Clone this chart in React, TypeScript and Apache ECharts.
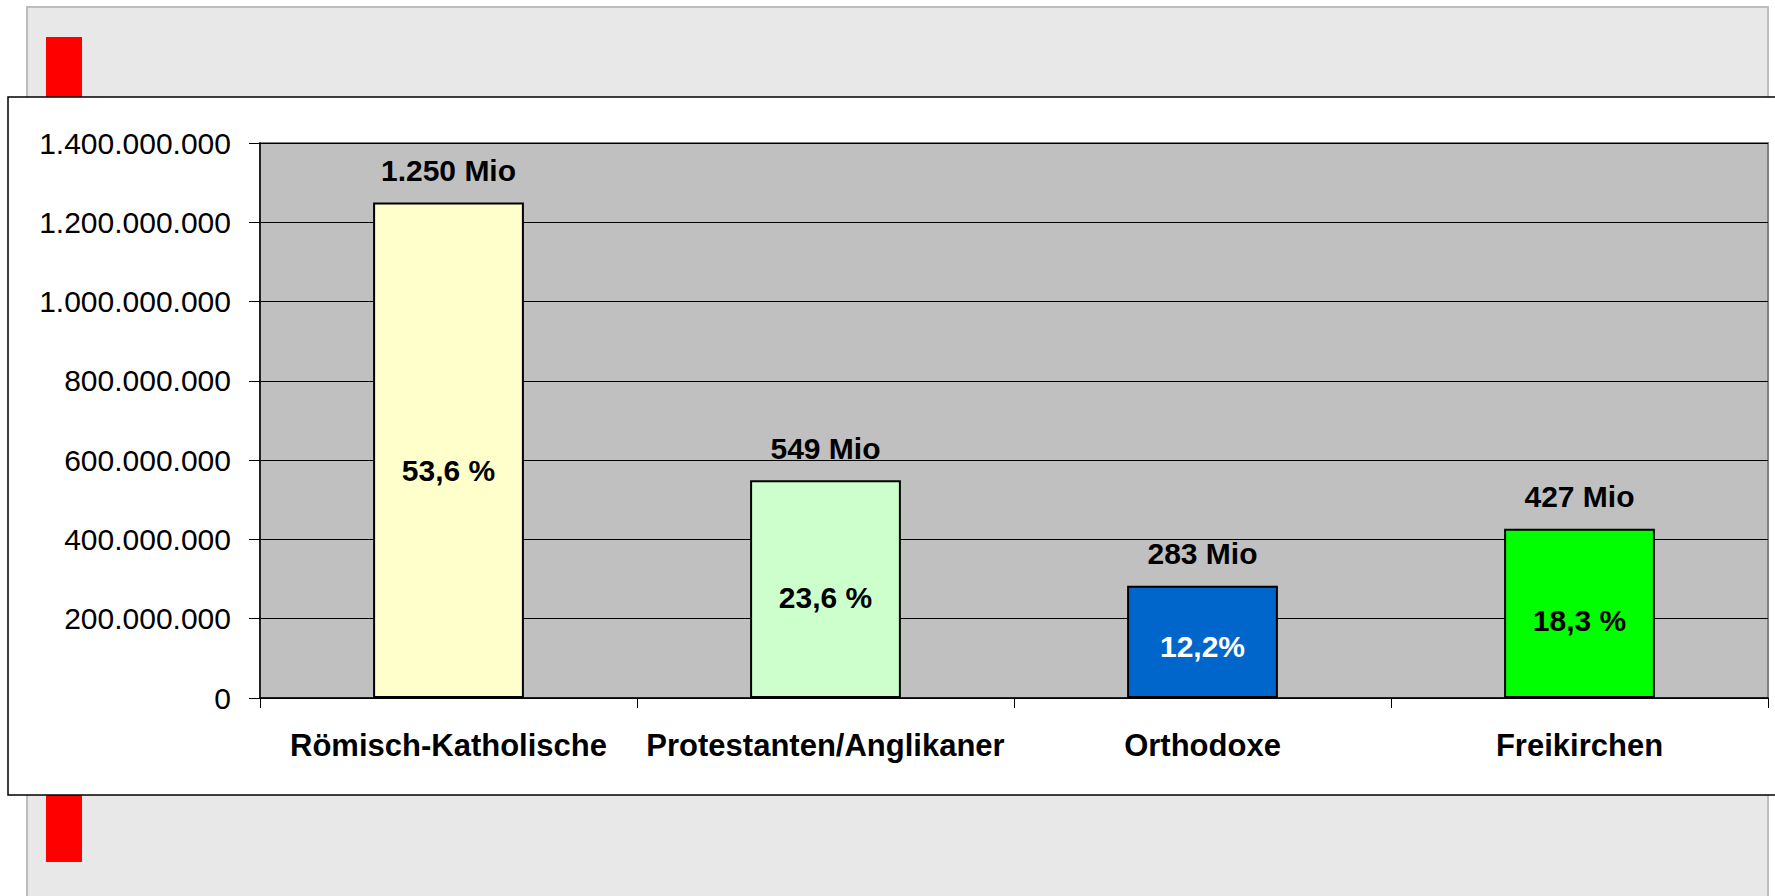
import React, { useEffect, useRef } from "react";
import * as echarts from "echarts";

const categories = ["Römisch-Katholische", "Protestanten/Anglikaner", "Orthodoxe", "Freikirchen"];
const members = [1250000000, 549000000, 283000000, 427000000];
const valueLabels = ["1.250 Mio", "549 Mio", "283 Mio", "427 Mio"];
const shareLabels = ["53,6 %", "23,6 %", "12,2%", "18,3 %"];
const barColors = ["#FFFFCC", "#CCFFCC", "#0066CC", "#00FF00"];
const shareLabelColors = ["#000000", "#000000", "#FFFFFF", "#000000"];
const yMin = 0;
const yMax = 1400000000;
const yStep = 200000000;

const FONT = "'Liberation Sans', Arial, Helvetica, sans-serif";

function formatDE(v: number): string {
  const s = Math.round(v).toString();
  return s.replace(/\B(?=(\d{3})+(?!\d))/g, ".");
}

export default function App() {
  const ref = useRef<HTMLDivElement>(null);
  useEffect(() => {
    if (!ref.current) return;
    const chart = echarts.init(ref.current, undefined, { renderer: "svg" });
    chart.setOption({
      animation: false,
      backgroundColor: "#FFFFFF",
      graphic: [
        {
          type: "rect",
          z: -100,
          shape: { x: 27, y: 7, width: 1741, height: 920 },
          style: { fill: "#E8E8E8", stroke: "#BDBDBD", lineWidth: 2 },
        },
        {
          type: "rect",
          z: -99,
          shape: { x: 46, y: 37, width: 36, height: 62 },
          style: { fill: "#FF0000" },
        },
        {
          type: "rect",
          z: -99,
          shape: { x: 46, y: 794, width: 36, height: 68 },
          style: { fill: "#FF0000" },
        },
        {
          type: "rect",
          z: -98,
          shape: { x: 8, y: 97, width: 1800, height: 698 },
          style: { fill: "#FFFFFF", stroke: "#000000", lineWidth: 1.5 },
        },
      ],
      grid: {
        left: 260,
        top: 143,
        right: 7,
        bottom: 198,
        show: true,
        backgroundColor: "#C0C0C0",
        borderColor: "#808080",
        borderWidth: 2,
        containLabel: false,
      },
      xAxis: {
        type: "category",
        data: categories,
        axisLine: { show: true, lineStyle: { color: "#000000", width: 1.5 } },
        axisTick: { show: true, alignWithLabel: false, length: 10, lineStyle: { color: "#000000" } },
        axisLabel: {
          color: "#000000",
          fontFamily: FONT,
          fontSize: 31,
          fontWeight: "bold",
          margin: 32,
          interval: 0,
        },
        splitLine: { show: false },
      },
      yAxis: {
        type: "value",
        min: yMin,
        max: yMax,
        interval: yStep,
        axisLine: { show: true, lineStyle: { color: "#000000", width: 1.5 } },
        axisTick: { show: true, length: 11, lineStyle: { color: "#000000" } },
        axisLabel: {
          color: "#000000",
          fontFamily: FONT,
          fontSize: 30,
          margin: 29,
          formatter: (v: number) => formatDE(v),
        },
        splitLine: { show: true, lineStyle: { color: "#000000", width: 1 } },
      },
      series: [
        {
          type: "bar",
          barWidth: "40%",
          data: members.map((v, i) => ({
            value: v,
            itemStyle: { color: barColors[i], borderColor: "#000000", borderWidth: 2 },
          })),
          label: {
            show: true,
            position: "top",
            distance: 17,
            color: "#000000",
            fontFamily: FONT,
            fontSize: 30,
            fontWeight: "bold",
            formatter: (p: any) => valueLabels[p.dataIndex],
          },
        },
        {
          type: "bar",
          barWidth: "40%",
          barGap: "-100%",
          data: members.map((v, i) => ({
            value: v,
            itemStyle: { color: "rgba(0,0,0,0)", borderWidth: 0 },
            label: { color: shareLabelColors[i] },
          })),
          label: {
            show: true,
            position: ["50%", "54%"],
            align: "center",
            verticalAlign: "middle",
            fontFamily: FONT,
            fontSize: 30,
            fontWeight: "bold",
            formatter: (p: any) => shareLabels[p.dataIndex],
          },
          silent: true,
        },
      ],
    });
    return () => chart.dispose();
  }, []);
  return (
    <div
      ref={ref}
      style={{ position: "fixed", left: 0, top: 0, width: 1775, height: 896 }}
    />
  );
}
